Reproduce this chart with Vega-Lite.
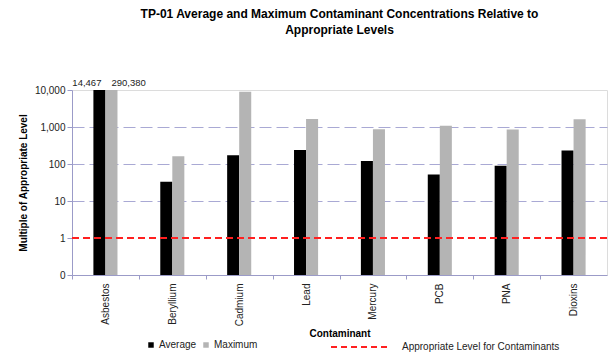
{
  "$schema": "https://vega.github.io/schema/vega-lite/v6.json",
  "width": 535,
  "height": 185,
  "autosize": "none",
  "padding": {"left": 72, "top": 90, "right": 5, "bottom": 77},
  "background": "white",
  "config": {
    "font": "Liberation Sans",
    "view": {"stroke": "#dcdcdc"},
    "legend": {"padding": 0}
  },
  "title": {
    "text": ["TP-01 Average and Maximum Contaminant Concentrations Relative to", "Appropriate Levels"],
    "fontSize": 12,
    "fontWeight": "bold",
    "font": "Liberation Sans",
    "color": "#000000",
    "anchor": "middle",
    "lineHeight": 16,
    "offset": 41
  },
  "data": {
    "values": [
      {"contaminant": "Asbestos", "type": "Average", "value": 14467},
      {"contaminant": "Asbestos", "type": "Maximum", "value": 290380},
      {"contaminant": "Beryllium", "type": "Average", "value": 33},
      {"contaminant": "Beryllium", "type": "Maximum", "value": 162},
      {"contaminant": "Cadmium", "type": "Average", "value": 172},
      {"contaminant": "Cadmium", "type": "Maximum", "value": 9000},
      {"contaminant": "Lead", "type": "Average", "value": 240},
      {"contaminant": "Lead", "type": "Maximum", "value": 1650},
      {"contaminant": "Mercury", "type": "Average", "value": 120},
      {"contaminant": "Mercury", "type": "Maximum", "value": 865},
      {"contaminant": "PCB", "type": "Average", "value": 52},
      {"contaminant": "PCB", "type": "Maximum", "value": 1085},
      {"contaminant": "PNA", "type": "Average", "value": 90},
      {"contaminant": "PNA", "type": "Maximum", "value": 850},
      {"contaminant": "Dioxins", "type": "Average", "value": 230},
      {"contaminant": "Dioxins", "type": "Maximum", "value": 1620}
    ]
  },
  "encoding": {
    "x": {
      "field": "contaminant",
      "type": "nominal",
      "sort": ["Asbestos", "Beryllium", "Cadmium", "Lead", "Mercury", "PCB", "PNA", "Dioxins"],
      "scale": {"paddingInner": 0.64, "paddingOuter": 0.32},
      "axis": {
        "title": "Contaminant",
        "titleFontSize": 10,
        "titleFontWeight": "bold",
        "titleColor": "#000000",
        "titlePadding": 3,
        "labelAngle": -90,
        "labelFontSize": 10,
        "labelColor": "#222222",
        "labelPadding": 4,
        "domainColor": "#9b9bc8",
        "tickColor": "#9b9bc8",
        "tickSize": 4,
        "tickOffset": -33.4,
        "labelOffset": 33.4
      }
    },
    "y": {
      "field": "value",
      "type": "quantitative",
      "scale": {"type": "log", "domain": [0.1, 10000], "clamp": true},
      "axis": {
        "title": "Multiple of Appropriate Level",
        "titleFontSize": 10,
        "titleFontWeight": "bold",
        "titleColor": "#000000",
        "titlePadding": 6,
        "values": [0.1, 1, 10, 100, 1000, 10000],
        "labelExpr": "datum.value < 0.5 ? '0' : format(datum.value, ',')",
        "labelFontSize": 10,
        "labelColor": "#222222",
        "domainColor": "#9b9bc8",
        "tickColor": "#9b9bc8",
        "tickSize": 5,
        "grid": true,
        "gridDash": [12, 5],
        "gridWidth": 1,
        "gridColor": {
          "condition": {"test": "datum.value == 10 || datum.value == 100 || datum.value == 1000", "value": "#a9a9d4"},
          "value": "transparent"
        }
      }
    }
  },
  "layer": [
    {
      "mark": {"type": "bar"},
      "encoding": {
        "xOffset": {"field": "type", "sort": ["Average", "Maximum"]},
        "color": {
          "field": "type",
          "type": "nominal",
          "scale": {"domain": ["Average", "Maximum"], "range": ["#000000", "#b4b4b4"]},
          "legend": {
            "title": null,
            "orient": "none",
            "direction": "horizontal",
            "legendX": 74,
            "legendY": 250,
            "symbolType": "square",
            "symbolSize": 30,
            "symbolStrokeWidth": 0,
            "labelFontSize": 10,
            "labelColor": "#222222",
            "labelOffset": 3,
            "columnPadding": 4
          }
        }
      }
    },
    {
      "transform": [{"filter": "datum.contaminant == 'Asbestos' && datum.type == 'Average'"}],
      "mark": {"type": "text", "align": "right", "baseline": "bottom", "dx": 2, "dy": -2, "fontSize": 9.5, "color": "#222222"},
      "encoding": {
        "xOffset": {"field": "type", "scale": {"domain": ["Average", "Maximum"]}},
        "text": {"field": "value", "type": "quantitative", "format": ","}
      }
    },
    {
      "transform": [{"filter": "datum.contaminant == 'Asbestos' && datum.type == 'Maximum'"}],
      "mark": {"type": "text", "align": "left", "baseline": "bottom", "dx": 0, "dy": -2, "fontSize": 9.5, "color": "#222222"},
      "encoding": {
        "xOffset": {"field": "type", "scale": {"domain": ["Average", "Maximum"]}},
        "text": {"field": "value", "type": "quantitative", "format": ","}
      }
    },
    {
      "data": {"values": [{"level": 1, "label": "Appropriate Level for Contaminants"}]},
      "mark": {"type": "rule", "strokeDash": [7, 4], "strokeWidth": 2},
      "encoding": {
        "x": {"value": 0},
        "x2": {"value": 535},
        "y": {"field": "level", "type": "quantitative"},
        "stroke": {
          "field": "label",
          "type": "nominal",
          "scale": {"range": ["#ff2020"]},
          "legend": {
            "title": null,
            "orient": "none",
            "legendX": 258,
            "legendY": 227,
            "symbolType": "stroke",
            "symbolSize": 3364,
            "symbolStrokeWidth": 2,
            "symbolDash": [6, 4],
            "labelFontSize": 10,
            "labelColor": "#222222",
            "labelOffset": 12
          }
        }
      }
    }
  ]
}
